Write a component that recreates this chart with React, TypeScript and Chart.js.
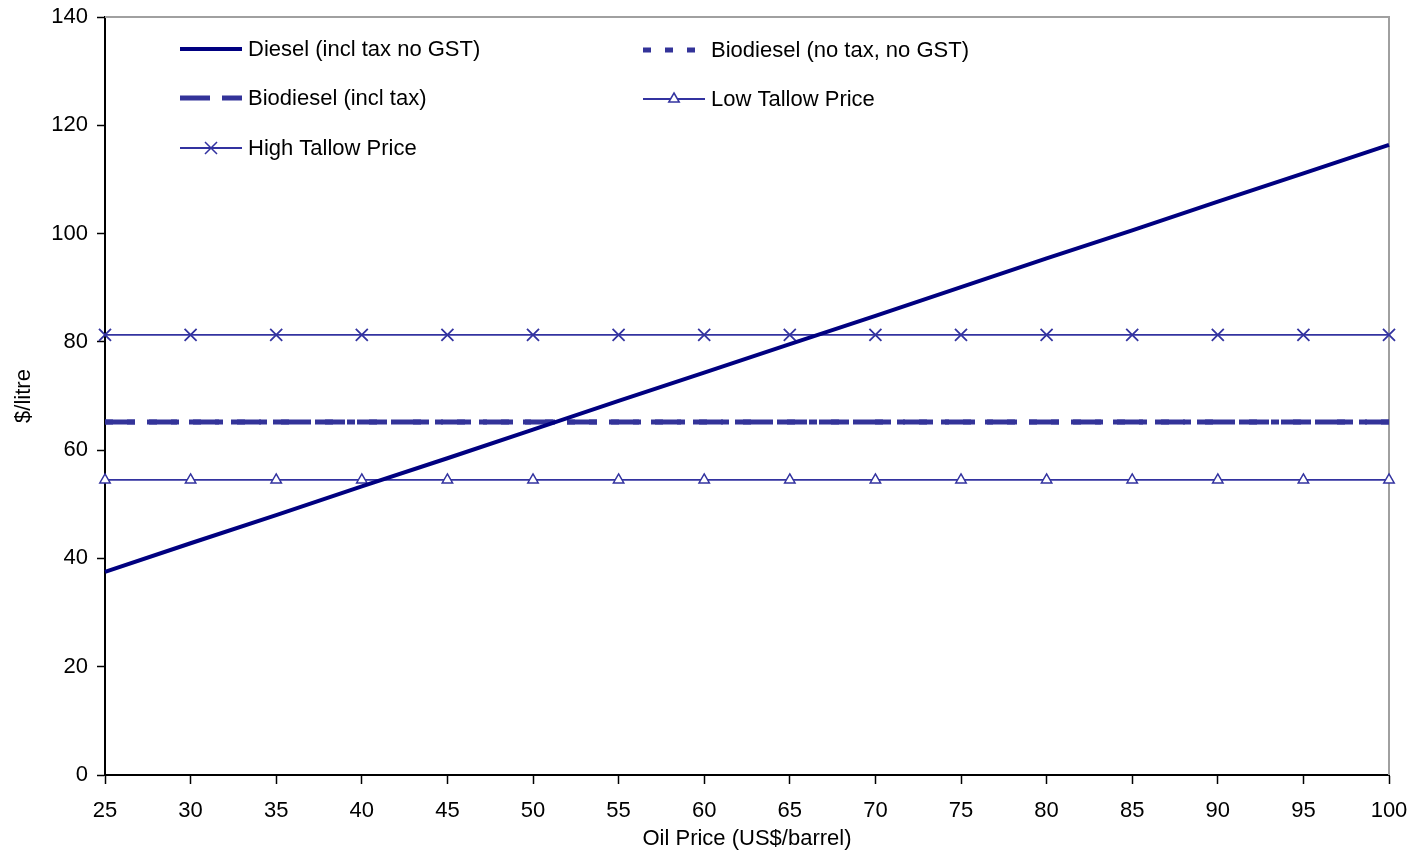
import React, { useEffect, useRef } from "react";
import { Chart, registerables } from "chart.js";

Chart.register(...registerables);

const oilPrices = ["25", "30", "35", "40", "45", "50", "55", "60", "65", "70", "75", "80", "85", "90", "95", "100"];
const diesel = [37.5, 42.8, 48.0, 53.3, 58.5, 63.8, 69.1, 74.3, 79.6, 84.8, 90.1, 95.4, 100.6, 105.9, 111.1, 116.4];
const biodieselNoTax = [65.2, 65.2, 65.2, 65.2, 65.2, 65.2, 65.2, 65.2, 65.2, 65.2, 65.2, 65.2, 65.2, 65.2, 65.2, 65.2];
const biodieselInclTax = [65.2, 65.2, 65.2, 65.2, 65.2, 65.2, 65.2, 65.2, 65.2, 65.2, 65.2, 65.2, 65.2, 65.2, 65.2, 65.2];
const lowTallow = [54.5, 54.5, 54.5, 54.5, 54.5, 54.5, 54.5, 54.5, 54.5, 54.5, 54.5, 54.5, 54.5, 54.5, 54.5, 54.5];
const highTallow = [81.3, 81.3, 81.3, 81.3, 81.3, 81.3, 81.3, 81.3, 81.3, 81.3, 81.3, 81.3, 81.3, 81.3, 81.3, 81.3];
const yTicks = [0, 20, 40, 60, 80, 100, 120, 140];

const FONT = "'Liberation Sans', Arial, sans-serif";

function drawMarker(ctx: CanvasRenderingContext2D, style: string, x: number, y: number, r: number, color: string) {
  ctx.save();
  ctx.strokeStyle = color;
  ctx.fillStyle = "#ffffff";
  ctx.lineWidth = 1.5;
  ctx.setLineDash([]);
  ctx.beginPath();
  if (style === "triangle") {
    ctx.moveTo(x, y - r);
    ctx.lineTo(x + r * 0.87, y + r * 0.5);
    ctx.lineTo(x - r * 0.87, y + r * 0.5);
    ctx.closePath();
    ctx.fill();
    ctx.stroke();
  } else if (style === "crossRot") {
    const d = r * 0.707;
    ctx.moveTo(x - d, y - d);
    ctx.lineTo(x + d, y + d);
    ctx.moveTo(x + d, y - d);
    ctx.lineTo(x - d, y + d);
    ctx.stroke();
  }
  ctx.restore();
}

const legendPlugin = {
  id: "customLegend",
  afterDatasetsDraw(chart: any) {
    const ctx: CanvasRenderingContext2D = chart.ctx;
    const items = [
      { idx: 0, x: 180, y: 49 },
      { idx: 1, x: 643, y: 50 },
      { idx: 2, x: 180, y: 98 },
      { idx: 3, x: 643, y: 99 },
      { idx: 4, x: 180, y: 148 },
    ];
    items.forEach((it) => {
      const ds = chart.data.datasets[it.idx];
      const len = 62;
      ctx.save();
      ctx.strokeStyle = ds.borderColor;
      ctx.lineWidth = ds.borderWidth;
      ctx.setLineDash(ds.borderDash || []);
      ctx.lineCap = "butt";
      ctx.beginPath();
      ctx.moveTo(it.x, it.y);
      ctx.lineTo(it.x + len, it.y);
      ctx.stroke();
      ctx.restore();
      if (ds.pointStyle && ds.pointRadius > 0) {
        drawMarker(ctx, ds.pointStyle, it.x + len / 2, it.y, ds.pointRadius, ds.pointBorderColor);
      }
      ctx.save();
      ctx.fillStyle = "#000000";
      ctx.font = `22px ${FONT}`;
      ctx.textBaseline = "middle";
      ctx.textAlign = "left";
      ctx.fillText(ds.label, it.x + len + 6, it.y + 1);
      ctx.restore();
    });
  },
  beforeDatasetsDraw(chart: any) {
    const { ctx, chartArea } = chart;
    ctx.save();
    ctx.strokeStyle = "#a0a0a0";
    ctx.lineWidth = 2;
    ctx.beginPath();
    ctx.moveTo(chartArea.left, chartArea.top);
    ctx.lineTo(chartArea.right, chartArea.top);
    ctx.lineTo(chartArea.right, chartArea.bottom);
    ctx.stroke();
    ctx.restore();
  },
};

export default function App() {
  const canvasRef = useRef<HTMLCanvasElement | null>(null);

  useEffect(() => {
    if (!canvasRef.current) return;
    const chart = new Chart(canvasRef.current, {
      type: "line",
      data: {
        labels: oilPrices,
        datasets: [
          {
            label: "Diesel (incl tax no GST)",
            data: diesel,
            borderColor: "#000080",
            borderWidth: 4,
            pointRadius: 0,
            order: 0,
          },
          {
            label: "Biodiesel (no tax, no GST)",
            data: biodieselNoTax,
            borderColor: "#333399",
            borderWidth: 5,
            borderDash: [8, 14],
            pointRadius: 0,
            order: 2,
          },
          {
            label: "Biodiesel (incl tax)",
            data: biodieselInclTax,
            borderColor: "#333399",
            borderWidth: 5,
            borderDash: [30, 12],
            pointRadius: 0,
            order: 1,
          },
          {
            label: "Low Tallow Price",
            data: lowTallow,
            borderColor: "#3333a0",
            borderWidth: 1.8,
            pointStyle: "triangle",
            pointRadius: 6,
            pointBorderColor: "#3333a0",
            pointBackgroundColor: "#ffffff",
            pointBorderWidth: 1.5,
            order: 3,
          },
          {
            label: "High Tallow Price",
            data: highTallow,
            borderColor: "#3333a0",
            borderWidth: 1.8,
            pointStyle: "crossRot",
            pointRadius: 8.5,
            pointBorderColor: "#3333a0",
            pointBorderWidth: 1.8,
            order: 4,
          },
        ] as any,
      },
      options: {
        animation: false,
        responsive: false,
        devicePixelRatio: 1,
        layout: { padding: { top: 17, right: 26, left: 0, bottom: 0 } },
        plugins: {
          legend: { display: false },
          tooltip: { enabled: false },
        },
        elements: { line: { tension: 0 } },
        scales: {
          x: {
            type: "category",
            offset: false,
            grid: {
              drawOnChartArea: false,
              drawTicks: true,
              tickLength: 9,
              tickColor: "#000000",
              tickWidth: 1.5,
            },
            border: { color: "#000000", width: 2 },
            ticks: {
              color: "#000000",
              font: { family: FONT, size: 22 },
              padding: 14,
              maxRotation: 0,
              autoSkip: false,
            },
            title: {
              display: true,
              text: "Oil Price (US$/barrel)",
              color: "#000000",
              font: { family: FONT, size: 22 },
              padding: { top: 0, bottom: 0 },
            },
            afterFit: (s: any) => {
              s.height = 77;
              s.paddingLeft = 0;
              s.paddingRight = 0;
            },
          },
          y: {
            min: 0,
            max: 140,
            afterBuildTicks: (s: any) => {
              s.ticks = yTicks.map((v) => ({ value: v }));
            },
            grid: {
              drawOnChartArea: false,
              drawTicks: true,
              tickLength: 8,
              tickColor: "#000000",
              tickWidth: 1.5,
            },
            border: { color: "#000000", width: 2 },
            ticks: {
              color: "#000000",
              font: { family: FONT, size: 22 },
              padding: 9,
            },
            title: {
              display: true,
              text: "$/litre",
              color: "#000000",
              font: { family: FONT, size: 22 },
              padding: { top: 11, bottom: 0 },
            },
            afterFit: (s: any) => {
              s.width = 105;
              s.paddingTop = 0;
              s.paddingBottom = 0;
            },
          },
        },
      },
      plugins: [legendPlugin],
    });
    return () => chart.destroy();
  }, []);

  return (
    <div style={{ position: "fixed", left: 0, top: 0, width: 1415, height: 852, background: "#ffffff" }}>
      <canvas ref={canvasRef} width={1415} height={852} style={{ display: "block" }} />
    </div>
  );
}
